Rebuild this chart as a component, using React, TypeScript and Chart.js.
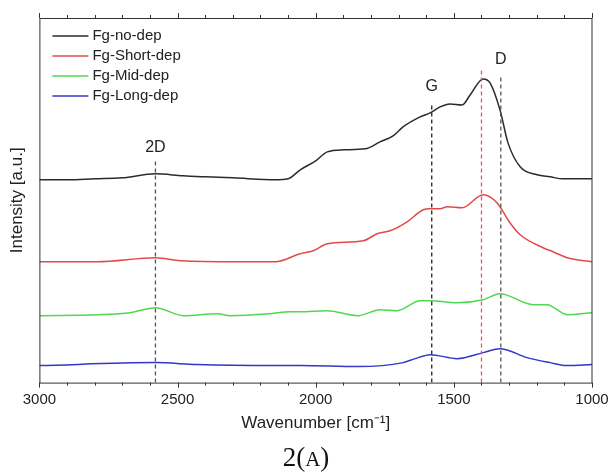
import React, { useEffect, useRef } from 'react';
import { Chart, registerables } from 'chart.js';

Chart.register(...registerables);

// ---------- data ----------
const seriesNames = ['Fg-no-dep', 'Fg-Short-dep', 'Fg-Mid-dep', 'Fg-Long-dep'];
const seriesColors = ['#2b2b2b', '#e24a4a', '#4fd84f', '#3636c8'];

const noDepWavenumber = [3000, 2900, 2800, 2700, 2580, 2480, 2400, 2300, 2146, 2100, 2056, 2000, 1958, 1900, 1821, 1767, 1720, 1684, 1622, 1586, 1550, 1514, 1470, 1441, 1394, 1369, 1333, 1304, 1260, 1199, 1152, 1105, 1000];
const noDepIntensity = [203, 203, 204, 205, 209, 207, 206, 205, 203, 204, 213, 222, 231, 233, 234, 241, 247, 256, 266, 270, 276, 279, 278, 288, 304, 300, 273, 240, 216, 208, 206, 204, 204];

const shortDepWavenumber = [3000, 2790, 2580, 2490, 2284, 2146, 2056, 2009, 1958, 1828, 1778, 1731, 1669, 1611, 1586, 1550, 1524, 1470, 1394, 1344, 1297, 1260, 1177, 1141, 1090, 1000];
const shortDepIntensity = [121, 121, 125, 122, 121, 121, 129, 132, 139, 142, 149, 152, 161, 173, 174, 174, 176, 175, 188, 180, 160, 148, 135, 131, 125, 121];

const midDepWavenumber = [3000, 2790, 2671, 2580, 2479, 2356, 2309, 2165, 2092, 2056, 1958, 1846, 1767, 1705, 1622, 1586, 1488, 1394, 1333, 1213, 1163, 1090, 1000];
const midDepIntensity = [67, 68, 70, 75, 67, 69, 67, 69, 71, 71, 72, 67, 73, 72, 82, 82, 80, 83, 89, 78, 78, 68, 70];

const longDepWavenumber = [3000, 2580, 2429, 2154, 2056, 1846, 1684, 1640, 1586, 1488, 1394, 1333, 1235, 1152, 1090, 1000];
const longDepIntensity = [17, 20, 18, 17, 17, 16, 20, 24, 28, 24, 30, 34, 25, 20, 17, 18];

const peakLabels = ['2D', 'G', '', 'D'];
const peakPositions = [2580, 1580, 1400, 1330];
const peakLineTops = [223, 280, 315, 306];
const peakLabelHeights = [235, 296, 0, 323];
const peakLineColors = ['#555555', '#222222', '#ee5656', '#555555'];

const xMin = 1000;
const xMax = 3000;
const yMin = 0;
const yMax = 365;
const xTickStep = 100;
const xMajorStep = 500;

const xTitle = 'Wavenumber [cm\u207B\u00B9]';
const yTitle = 'Intensity [a.u.]';

const FONT = "'Liberation Sans', Arial, Helvetica, sans-serif";

function toPoints(xs: number[], ys: number[]) {
  return xs.map((x, i) => ({ x, y: ys[i] }));
}

const framePlugin = {
  id: 'frameTicks',
  afterDraw(chart: any) {
    const { ctx, chartArea } = chart;
    const xs = chart.scales.x;
    ctx.save();
    ctx.strokeStyle = '#333';
    ctx.lineWidth = 1;
    ctx.strokeRect(chartArea.left + 0.5, chartArea.top + 0.5, chartArea.right - chartArea.left - 0.5, chartArea.bottom - chartArea.top);
    ctx.beginPath();
    xs.ticks.forEach((t: any) => {
      const px = Math.round(xs.getPixelForValue(t.value)) + 0.5;
      const len = t.value % xMajorStep === 0 ? 5 : 3;
      ctx.moveTo(px, chartArea.bottom);
      ctx.lineTo(px, chartArea.bottom + len);
      ctx.moveTo(px, chartArea.top);
      ctx.lineTo(px, chartArea.top - len);
    });
    ctx.stroke();
    ctx.restore();
  },
};

const annotationPlugin = {
  id: 'peakLabels',
  afterDatasetsDraw(chart: any) {
    const { ctx } = chart;
    const xs = chart.scales.x;
    const ys = chart.scales.y;
    ctx.save();
    ctx.fillStyle = '#222';
    ctx.font = `16px ${FONT}`;
    ctx.textAlign = 'center';
    ctx.textBaseline = 'middle';
    peakLabels.forEach((lab, i) => {
      if (!lab) return;
      ctx.fillText(lab, xs.getPixelForValue(peakPositions[i]), ys.getPixelForValue(peakLabelHeights[i]));
    });
    // legend
    const { chartArea } = chart;
    ctx.textAlign = 'left';
    ctx.font = `15px ${FONT}`;
    seriesNames.forEach((name, i) => {
      const y = chartArea.top + 18 + i * 20;
      ctx.strokeStyle = seriesColors[i];
      ctx.lineWidth = 1.5;
      ctx.beginPath();
      ctx.moveTo(chartArea.left + 13, y);
      ctx.lineTo(chartArea.left + 49, y);
      ctx.stroke();
      ctx.fillStyle = '#222';
      ctx.fillText(name, chartArea.left + 53, y);
    });
    ctx.restore();
  },
};

export default function App() {
  const canvasRef = useRef<HTMLCanvasElement | null>(null);

  useEffect(() => {
    if (!canvasRef.current) return;
    Chart.defaults.font.family = FONT;
    Chart.defaults.color = '#222';

    const seriesX = [noDepWavenumber, shortDepWavenumber, midDepWavenumber, longDepWavenumber];
    const seriesY = [noDepIntensity, shortDepIntensity, midDepIntensity, longDepIntensity];

    const curveSets = seriesNames.map((name, i) => ({
      label: name,
      data: toPoints(seriesX[i], seriesY[i]),
      borderColor: seriesColors[i],
      backgroundColor: seriesColors[i],
      borderWidth: 1.5,
      pointRadius: 0,
      cubicInterpolationMode: 'monotone' as const,
      fill: false,
    }));

    const peakSets = peakPositions.map((pos, i) => ({
      label: 'peak-' + i,
      data: [
        { x: pos, y: yMin },
        { x: pos, y: peakLineTops[i] },
      ],
      borderColor: peakLineColors[i],
      borderWidth: 1.3,
      borderDash: [4, 3],
      pointRadius: 0,
      fill: false,
    }));

    const chart = new Chart(canvasRef.current, {
      type: 'line',
      data: { datasets: [...peakSets, ...curveSets] as any },
      options: {
        responsive: true,
        maintainAspectRatio: false,
        animation: false,
        layout: { padding: { left: 0, right: 19, top: 18, bottom: 36 } },
        plugins: {
          legend: { display: false },
          tooltip: { enabled: false },
        },
        scales: {
          x: {
            type: 'linear',
            reverse: true,
            min: xMin,
            max: xMax,
            grid: { display: false, drawTicks: true, tickLength: 8 },
            border: { display: false },
            ticks: {
              stepSize: xTickStep,
              autoSkip: false,
              maxRotation: 0,
              padding: 0,
              font: { size: 15 },
              color: '#222',
              callback: (v: any) => (Number(v) % xMajorStep === 0 ? String(v) : ''),
            },
            title: {
              display: true,
              text: xTitle,
              font: { size: 17 },
              color: '#222',
              padding: { top: 5, bottom: 4 },
            },
          },
          y: {
            type: 'linear',
            min: yMin,
            max: yMax,
            grid: { display: false, drawTicks: false },
            border: { display: false },
            ticks: { display: false },
            title: {
              display: true,
              text: yTitle,
              font: { size: 17 },
              color: '#222',
              padding: { top: 7, bottom: 12 },
            },
          },
        },
      },
      plugins: [framePlugin, annotationPlugin],
    });
    return () => chart.destroy();
  }, []);

  return (
    <div style={{ position: 'fixed', left: 0, top: 0, width: 611, height: 474, background: '#fff' }}>
      <canvas ref={canvasRef} />
      <div
        style={{
          position: 'absolute',
          left: 0,
          top: 444,
          width: 612,
          textAlign: 'center',
          fontFamily: "'Liberation Serif', 'Times New Roman', serif",
          fontSize: 27,
          lineHeight: '27px',
          color: '#111',
        }}
      >
        2(<span style={{ fontSize: 21 }}>A</span>)
      </div>
    </div>
  );
}
